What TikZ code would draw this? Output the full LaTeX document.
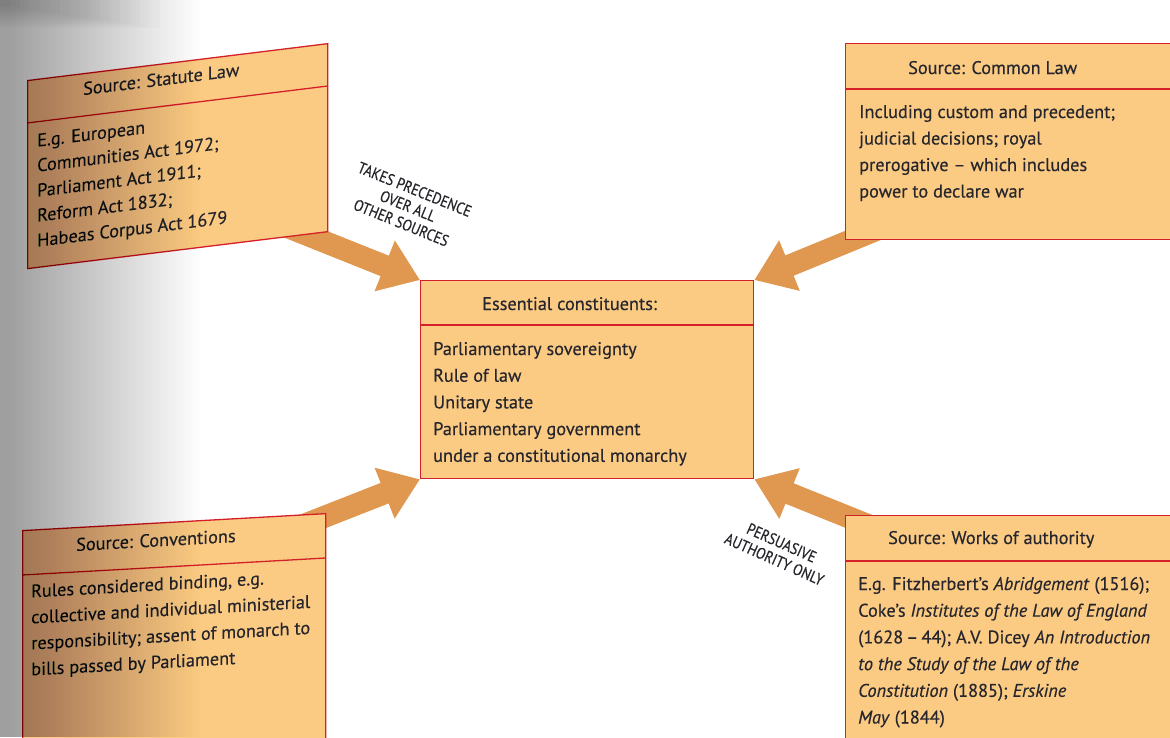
\documentclass[tikz,border=0pt]{standalone}
\usepackage{fontspec}
\setmainfont[FakeBold=0.35]{PT Sans}
\newfontfamily\labelfont[FakeStretch=0.86,FakeBold=0.4]{PT Sans}
\usetikzlibrary{arrows.meta,backgrounds}
\definecolor{boxfill}{RGB}{251,203,132}
\definecolor{boxred}{RGB}{212,32,40}
\definecolor{arrowc}{RGB}{224,152,80}
\definecolor{txt}{RGB}{38,38,44}
\tikzset{
  srcbox/.style={draw=boxred, fill=boxfill, line width=1.3pt, inner sep=0pt, anchor=north west},
  divline/.style={draw=boxred, line width=1.3pt},
  headtxt/.style={anchor=base west, inner sep=0pt, text=txt, font=\fontsize{18.3}{21}\selectfont},
  bodytxt/.style={anchor=base west, inner sep=0pt, text=txt, font=\fontsize{18.3}{21}\selectfont},
  bigarrow/.style={draw=arrowc, line width=22pt, -{Triangle[length=38pt,width=52pt]}},
  lbl/.style={font=\labelfont\fontsize{16}{18}\selectfont, text=txt, align=center, inner sep=0pt},
}
% #1 name, #2 width, #3 height, #4 divider y, #5 heading x, #6 heading baseline y,
% #7 heading, #8 body x / first baseline / spacing, #9 body lines
\newcommand\srcbox[9]{%
  \node[srcbox, minimum width=#2pt, minimum height=#3pt] (#1) at (0,0) {};
  \draw[divline] (0,#4) -- (#2,#4);
  \node[headtxt] (#1-head) at (#5,#6) {#7};
  \def\bx{0}\def\by{0}\def\bs{0}%
  \setbodypos#8\relax
  \foreach \t [count=\i from 0] in {#9} {%
    \node[bodytxt] (#1-l\i) at (\bx,\by+\i*\bs) {\t};
  }%
}
\def\setbodypos#1/#2/#3\relax{\def\bx{#1}\def\by{#2}\def\bs{#3}}
\begin{document}
\begin{tikzpicture}[x=1pt,y=-1pt]
\useasboundingbox (0,0) rectangle (1170,737);
\begin{scope}[on background layer]
  \fill[white] (0,0) rectangle (1170,737);
\end{scope}

% Statute law (top left, sheared by page curvature)
\begin{scope}[shift={(27,80)}, cm={1,0.123,0,1,(0,0)}, transform shape]
  \srcbox{statute}{300}{188}{43}{56}{22}{Source: Statute Law}{10/68/25}%
    {{E.g. European},{Communities Act 1972;},{Parliament Act 1911;},{Reform Act 1832;},{Habeas Corpus Act 1679}}
\end{scope}

% Conventions (bottom left)
\begin{scope}[shift={(22,530)}, cm={1,0.056,0,1,(0,0)}, transform shape]
  \srcbox{conv}{303}{240}{45}{54}{24}{Source: Conventions}{9/68/26}%
    {{Rules considered binding, e.g.},{collective and individual ministerial},{responsibility; assent of monarch to},{bills passed by Parliament}}
\end{scope}

% Central box
\begin{scope}[shift={(420,280)}]
  \srcbox{central}{333}{198}{45}{62}{30}{Essential constituents:}{13/75/26.7}%
    {{Parliamentary sovereignty},{Rule of law},{Unitary state},{Parliamentary government},{under a constitutional monarchy}}
\end{scope}

% Common law (top right)
\begin{scope}[shift={(845,43)}]
  \srcbox{common}{345}{196}{46}{63}{31}{Source: Common Law}{14/75/26.5}%
    {{Including custom and precedent;},{judicial decisions; royal},{prerogative -- which includes},{power to declare war}}
\end{scope}

% Works of authority (bottom right)
\begin{scope}[shift={(845,515)}]
  \srcbox{works}{345}{240}{46}{43}{29}{Source: Works of authority}{13/75/26.7}%
    {{E.g. Fitzherbert's \textit{Abridgement} (1516);},{Coke's \textit{Institutes of the Law of England}},{(1628\,--\,44); A.V. Dicey \textit{An Introduction}},{\textit{to the Study of the Law of the}},{\textit{Constitution} (1885); \textit{Erskine}},{\textit{May} (1844)}}
\end{scope}

% arrow tails (hidden under the source boxes)
\coordinate (t-statute) at (250,212);
\coordinate (t-common) at (920,212);
\coordinate (t-conv) at (250,546);
\coordinate (t-works) at (920,546);

\begin{scope}[on background layer]
  \draw[bigarrow] (t-statute) -- (central.north west);
  \draw[bigarrow] (t-common) -- (central.north east);
  \draw[bigarrow] (t-conv) -- (central.south west);
  \draw[bigarrow] (t-works) -- (central.south east);
\end{scope}

\node[lbl, rotate=-22] (lab-prec) at (408,206) {TAKES PRECEDENCE\\OVER ALL\\OTHER SOURCES};
\node[lbl, rotate=-24] (lab-pers) at (778,551) {PERSUASIVE\\AUTHORITY ONLY};

% page-binding shadow on the left (stacked translucent strips)
\foreach \k in {0,...,47} {
  \fill[black, opacity=0.009] (0,0) rectangle (200-\k*4,737);
}
\foreach \k in {0,...,15} {
  \fill[black, opacity=0.012] (0,0) rectangle (160-\k*10,28-\k*1.5);
}
\end{tikzpicture}
\end{document}
